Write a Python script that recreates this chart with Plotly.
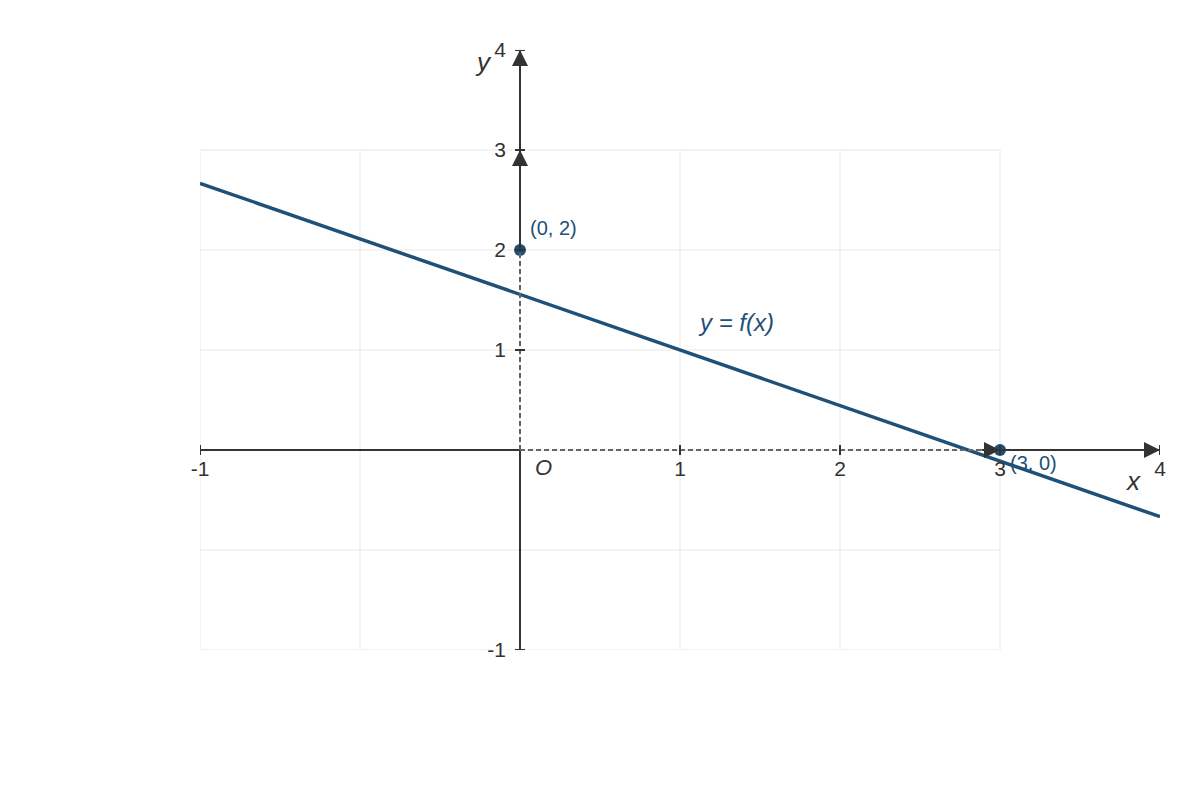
import plotly.graph_objects as go

# line y = f(x), endpoints
line_x = [-2, 4]
line_y = [2.667, -0.667]

# marked points
point_x = [0, 3]
point_y = [2, 0]
point_labels = ["(0, 2)", "(3, 0)"]

# grid positions (grid only covers -2..3)
grid_vals = [-2, -1, 0, 1, 2, 3]

# tick positions and their labels
x_tickvals = [-2, 1, 2, 3, 4]
x_ticktext = ["-1", "1", "2", "3", "4"]
y_tickvals = [-2, 1, 2, 3, 4]
y_ticktext = ["-1", "1", "2", "3", "4"]

blue = "#1f5077"
axis_col = "#333333"
font_family = "Liberation Sans, Arial, sans-serif"

fig = go.Figure()

# the function line
fig.add_trace(go.Scatter(
    x=line_x, y=line_y, mode="lines",
    line=dict(color=blue, width=3.5),
    hoverinfo="skip", showlegend=False
))

shapes = []

# light grid
for v in grid_vals:
    shapes.append(dict(type="line", x0=v, x1=v, y0=grid_vals[0], y1=grid_vals[-1],
                       line=dict(color="#e8e8e8", width=1), layer="below"))
    shapes.append(dict(type="line", y0=v, y1=v, x0=grid_vals[0], x1=grid_vals[-1],
                       line=dict(color="#e8e8e8", width=1), layer="below"))

# solid axis pieces
shapes.append(dict(type="line", x0=-2, x1=0, y0=0, y1=0, line=dict(color=axis_col, width=2)))
shapes.append(dict(type="line", x0=3, x1=4, y0=0, y1=0, line=dict(color=axis_col, width=2)))
shapes.append(dict(type="line", x0=0, x1=0, y0=-2, y1=0, line=dict(color=axis_col, width=2)))
shapes.append(dict(type="line", x0=0, x1=0, y0=2, y1=4, line=dict(color=axis_col, width=2)))

# dashed projection lines
shapes.append(dict(type="line", x0=point_x[0], x1=point_x[0], y0=0, y1=point_y[0],
                   line=dict(color="#666666", width=2, dash="5px,3px")))
shapes.append(dict(type="line", x0=0, x1=point_x[1], y0=0, y1=0,
                   line=dict(color="#666666", width=2, dash="5px,3px")))

# tick marks crossing the axes
for v in x_tickvals:
    shapes.append(dict(type="line", x0=v, x1=v, ysizemode="pixel", yanchor=0, y0=-5, y1=5,
                       line=dict(color=axis_col, width=2)))
for v in y_tickvals:
    shapes.append(dict(type="line", y0=v, y1=v, xsizemode="pixel", xanchor=0, x0=-5, x1=5,
                       line=dict(color=axis_col, width=2)))

annotations = []

# arrow heads
for hx, hy, dx, dy in [(4, 0, -20, 0), (3, 0, -20, 0), (0, 4, 0, 20), (0, 3, 0, 20)]:
    annotations.append(dict(x=hx, y=hy, ax=dx, ay=dy, text="", showarrow=True,
                            arrowhead=2, arrowsize=1.6, arrowwidth=2, arrowcolor=axis_col))

# point markers
fig.add_trace(go.Scatter(
    x=point_x, y=point_y, mode="markers",
    marker=dict(color=blue, size=12),
    hoverinfo="skip", showlegend=False
))

# point labels
annotations.append(dict(x=point_x[0], y=point_y[0], text=point_labels[0], showarrow=False,
                        xanchor="left", yanchor="middle", xshift=8, yshift=22,
                        font=dict(size=20, color=blue, family=font_family)))
annotations.append(dict(x=point_x[1], y=point_y[1], text=point_labels[1], showarrow=False,
                        xanchor="left", yanchor="middle", xshift=8, yshift=-13,
                        font=dict(size=20, color=blue, family=font_family)))

# function label
annotations.append(dict(x=1.35, y=1.28, text="<i>y = f(x)</i>", showarrow=False,
                        font=dict(size=24, color=blue, family=font_family)))

# origin and axis names
annotations.append(dict(x=0, y=0, text="<i>O</i>", showarrow=False, xshift=23, yshift=-17,
                        font=dict(size=22, color=axis_col, family=font_family)))
annotations.append(dict(x=3.83, y=-0.31, text="<i>x</i>", showarrow=False,
                        font=dict(size=26, color=axis_col, family=font_family)))
annotations.append(dict(x=-0.23, y=3.88, text="<i>y</i>", showarrow=False,
                        font=dict(size=26, color=axis_col, family=font_family)))

# page body has an 8px margin, so the plot area is shifted back by it
fig.update_layout(
    width=1200, height=800,
    margin=dict(l=192, r=48, t=42, b=158),
    plot_bgcolor="white", paper_bgcolor="white",
    font=dict(family=font_family, size=20, color=axis_col),
    xaxis=dict(range=[-2, 4], tickvals=x_tickvals, ticktext=x_ticktext,
               tickfont=dict(size=21, color=axis_col),
               showgrid=False, zeroline=False, showline=False, ticks="",
               anchor="free", position=1/3, ticklabelstandoff=4, fixedrange=True),
    yaxis=dict(range=[-2, 4], tickvals=y_tickvals, ticktext=y_ticktext,
               tickfont=dict(size=21, color=axis_col),
               showgrid=False, zeroline=False, showline=False, ticks="",
               anchor="free", position=1/3, ticklabelstandoff=14, fixedrange=True),
    shapes=shapes,
    annotations=annotations,
    showlegend=False
)

fig.write_html("out.html")
